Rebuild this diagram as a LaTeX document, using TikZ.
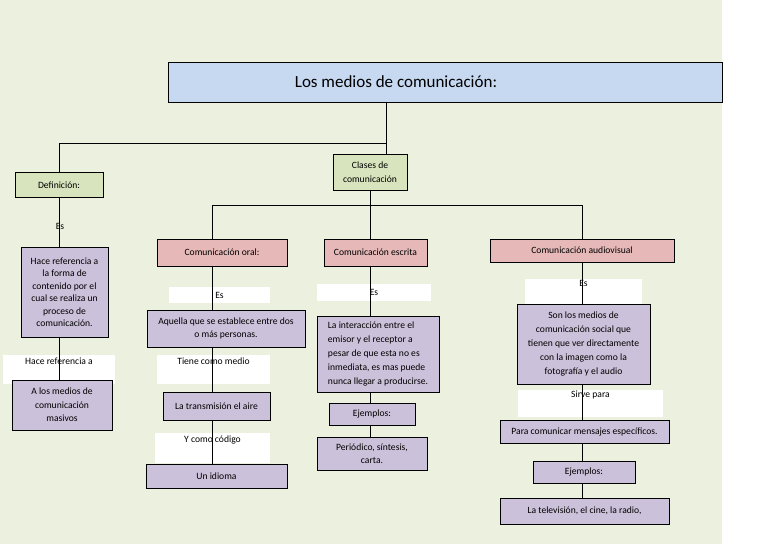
\documentclass[tikz,border=0pt]{standalone}
\usepackage{fontspec}
\setmainfont{Carlito}
\usetikzlibrary{positioning}

\definecolor{fondo}{HTML}{EBF1DE}
\definecolor{azul}{HTML}{C6D9F1}
\definecolor{verde}{HTML}{D7E4BD}
\definecolor{rosa}{HTML}{E6B9B8}
\definecolor{lila}{HTML}{CCC1DA}

\tikzset{
    caja/.style={draw, thick, inner sep=1pt, align=center, font=\fontsize{9.6}{13.5}\selectfont},
    titulo/.style={caja, fill=azul, font=\fontsize{17}{18}\selectfont},
    clase/.style={caja, fill=verde},
    tipo/.style={caja, fill=rosa},
    dato/.style={caja, fill=lila},
    etiqueta/.style={fill=white, inner sep=1pt, align=center, font=\fontsize{9.6}{10}\selectfont},
    enlace/.style={thick}
}

\begin{document}
\begin{tikzpicture}[x=1pt,y=-1pt]
    % Fondo
    \useasboundingbox (0,0) rectangle (768,544);
    \fill[fondo] (0,0) rectangle (722,544);

    % Titulo y clases
    \node[titulo, minimum width=554, minimum height=40] (tit) at (445,82) {Los medios de comunicación:\hspace{98pt}};
    \node[clase, minimum width=74, minimum height=36] (clases) at (370,172) {Clases de\\comunicación};
    \node[clase, minimum width=88, minimum height=25] (def) at (59,185) {Definición:};

    % Definicion
    \node[font=\fontsize{9.6}{10}\selectfont] (es0) at (60,226) {Es};
    \node[dato, minimum width=87, minimum height=90, font=\fontsize{9.6}{12.5}\selectfont] (hace) at (64.5,292) {Hace referencia a\\la forma de\\contenido por el\\cual se realiza un\\proceso de\\comunicación.};
    \node[etiqueta, minimum width=112, minimum height=29, anchor=north] (hr) at (59,355) {Hace referencia a\\[8pt]};
    \node[dato, minimum width=100, minimum height=50] (masivos) at (62,405) {A los medios de\\comunicación\\masivos};

    % Comunicacion oral
    \node[tipo, minimum width=130, minimum height=27] (oral) at (222,252.5) {Comunicación oral:};
    \node[etiqueta, minimum width=101, minimum height=16] (es1) at (219.5,295) {Es};
    \node[dato, minimum width=158, minimum height=37] (aquella) at (226,328.5) {Aquella que se establece entre dos\\o más personas.};
    \node[etiqueta, minimum width=113, minimum height=29] (medio) at (213.5,369.5) {Tiene como medio\\[6pt]};
    \node[dato, minimum width=107, minimum height=28] (aire) at (216.5,406) {La transmisión el aire};
    \node[etiqueta, minimum width=115, minimum height=30] (codigo) at (212.5,448) {Y como código\\[8pt]};
    \node[dato, minimum width=141, minimum height=24] (idioma) at (216.5,476) {Un idioma};

    % Comunicacion escrita
    \node[tipo, minimum width=103, minimum height=27] (escrita) at (375.5,252.5) {Comunicación escrita};
    \node[etiqueta, minimum width=114, minimum height=17] (es2) at (374,292.5) {Es};
    \node[dato, minimum width=122, minimum height=76, align=left, font=\fontsize{9.6}{14}\selectfont] (interaccion) at (378,354) {La interacción entre el\\emisor y el receptor a\\pesar de que esta no es\\inmediata, es mas puede\\nunca llegar a producirse.};
    \node[dato, minimum width=86, minimum height=22] (ej1) at (372,414) {Ejemplos:};
    \node[dato, minimum width=110, minimum height=33] (periodico) at (372,453.5) {Periódico, síntesis,\\carta.};

    % Comunicacion audiovisual
    \node[tipo, minimum width=184, minimum height=23] (audio) at (582,250.5) {Comunicación audiovisual};
    \node[etiqueta, minimum width=117, minimum height=23] (es3) at (583.5,291.5) {Es\\[6pt]};
    \node[dato, minimum width=133, minimum height=80, font=\fontsize{9.6}{14}\selectfont] (son) at (583.5,344) {Son los medios de\\comunicación social que\\tienen que ver directamente\\con la imagen como la\\fotografía y el audio};
    \node[etiqueta, minimum width=145, minimum height=27] (sirve) at (590.5,403.5) {Sirve para\\[8pt]};
    \node[dato, minimum width=169, minimum height=23] (mensajes) at (584.5,431.5) {Para comunicar mensajes específicos.};
    \node[dato, minimum width=102, minimum height=22] (ej2) at (584,472) {Ejemplos:};
    \node[dato, minimum width=169, minimum height=26] (tele) at (584.5,511) {La televisión, el cine, la radio,};

    % Conectores
    \coordinate (c1) at (386,143);
    \coordinate (c2) at (212,205);
    \coordinate (c3) at (582,205);
    \draw[enlace] (tit.south -| c1) -- (c1) -| (def.north);
    \draw[enlace] (c1) -- (c1 |- clases.north);
    \draw[enlace] (clases.south) -- (clases.south |- c2);
    \draw[enlace] (c2) -- (c3);
    \draw[enlace] (c2) -- (c2 |- oral.north);
    \draw[enlace] (c3) -- (c3 |- audio.north);
    \draw[enlace] (clases.south |- c2) -- (clases.south |- escrita.north);

    \draw[enlace] (def.south) -- (def.south |- hace.north);
    \draw[enlace] (hace.south -| def.south) -- (def.south |- masivos.north);

    \draw[enlace] (oral.south -| c2) -- (c2 |- aquella.north);
    \draw[enlace] (aquella.south -| c2) -- (c2 |- aire.north);
    \draw[enlace] (aire.south -| c2) -- (c2 |- idioma.north);

    \draw[enlace] (escrita.south -| clases.south) -- (clases.south |- interaccion.north);
    \draw[enlace] (interaccion.south -| clases.south) -- (clases.south |- ej1.north);
    \draw[enlace] (ej1.south -| clases.south) -- (clases.south |- periodico.north);

    \draw[enlace] (audio.south -| c3) -- (c3 |- son.north);
    \draw[enlace] (son.south -| c3) -- (c3 |- mensajes.north);
    \draw[enlace] (mensajes.south -| c3) -- (c3 |- ej2.north);
    \draw[enlace] (ej2.south -| c3) -- (c3 |- tele.north);
\end{tikzpicture}
\end{document}
